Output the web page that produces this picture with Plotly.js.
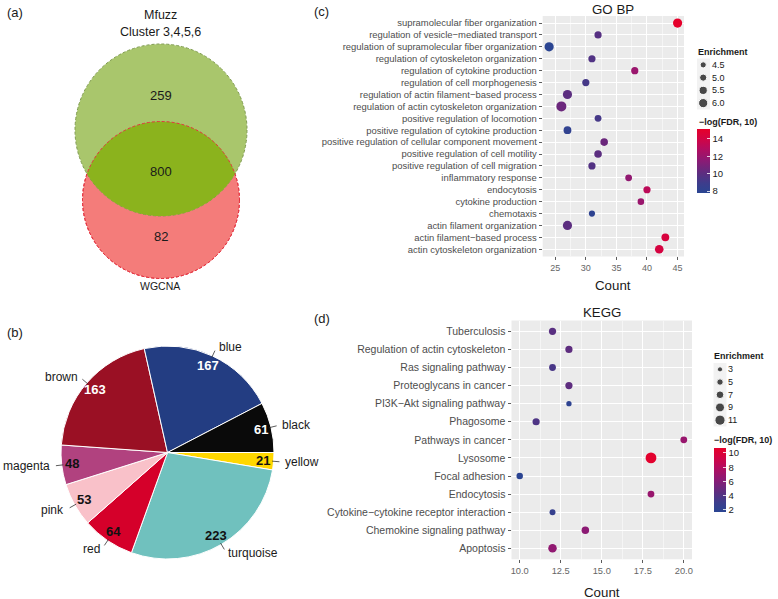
<!DOCTYPE html>
<html><head><meta charset="utf-8">
<script src="https://cdn.plot.ly/plotly-3.0.1.min.js"></script>
<style>html,body{margin:0;padding:0;background:#fff}#chart{width:778px;height:599px}</style>
</head><body><div id="chart"></div>
<script>
// ---------------- DATA ----------------
// (a) Venn
const vennNameA = ['Mfuzz', 'Cluster 3,4,5,6'];
const vennNameB = 'WGCNA';
const vennOnlyA = 259;
const vennBoth = 800;
const vennOnlyB = 82;

// (b) WGCNA modules
const moduleNames = ['yellow', 'turquoise', 'red', 'pink', 'magenta', 'brown', 'blue', 'black'];
const moduleSizes = [21, 223, 64, 53, 48, 163, 167, 61];

// (c) GO BP
const goTerms = [
  'supramolecular fiber organization',
  'regulation of vesicle\u2212mediated transport',
  'regulation of supramolecular fiber organization',
  'regulation of cytoskeleton organization',
  'regulation of cytokine production',
  'regulation of cell morphogenesis',
  'regulation of actin filament\u2212based process',
  'regulation of actin cytoskeleton organization',
  'positive regulation of locomotion',
  'positive regulation of cytokine production',
  'positive regulation of cellular component movement',
  'positive regulation of cell motility',
  'positive regulation of cell migration',
  'inflammatory response',
  'endocytosis',
  'cytokine production',
  'chemotaxis',
  'actin filament organization',
  'actin filament\u2212based process',
  'actin cytoskeleton organization'
];
const goCount = [45, 32, 24, 31, 38, 30, 27, 26, 32, 27, 33, 32, 31, 37, 40, 39, 31, 27, 43, 42];
const goEnrich = [6.0, 5.0, 6.0, 5.0, 5.0, 5.0, 6.0, 6.4, 4.8, 5.3, 5.2, 5.2, 5.0, 4.8, 5.0, 4.7, 4.5, 6.0, 5.3, 5.7];
const goLogFDR = [15.1, 9.8, 7.8, 9.6, 12.0, 9.2, 10.0, 10.5, 9.2, 8.2, 10.5, 10.0, 9.7, 11.7, 13.2, 12.0, 8.0, 10.0, 14.3, 14.2];
const goEnrichBreaks = [4.5, 5.0, 5.5, 6.0];
const goFdrTicks = [8, 10, 12, 14];
const goXTicks = [25, 30, 35, 40, 45];

// (d) KEGG
const keggTerms = [
  'Tuberculosis',
  'Regulation of actin cytoskeleton',
  'Ras signaling pathway',
  'Proteoglycans in cancer',
  'PI3K\u2212Akt signaling pathway',
  'Phagosome',
  'Pathways in cancer',
  'Lysosome',
  'Focal adhesion',
  'Endocytosis',
  'Cytokine\u2212cytokine receptor interaction',
  'Chemokine signaling pathway',
  'Apoptosis'
];
const keggCount = [12, 13, 12, 13, 13, 11, 20, 18, 10, 18, 12, 14, 12];
const keggEnrich = [6.2, 6.2, 5.6, 6.2, 3.2, 6.2, 5.6, 12, 5.0, 5.6, 4.2, 6.7, 8.3];
const keggLogFDR = [4.3, 4.5, 3.6, 4.5, 2.0, 3.8, 6.8, 10.5, 1.8, 6.8, 2.5, 6.3, 6.5];
const keggEnrichBreaks = [3, 5, 7, 9, 11];
const keggFdrTicks = [2, 4, 6, 8, 10];
const keggXTicks = [10, 12.5, 15, 17.5, 20];

// ---------------- STYLE / LAYOUT ----------------
const W = 778, H = 599;
const X = px => px / W;
const Y = py => 1 - py / H;
const FONT = 'Liberation Sans, Arial, Helvetica, sans-serif';
const TXT = '#1a1a1a';

const moduleColors = {
  yellow: '#FFD700', turquoise: '#70C1BE', red: '#D5002A', pink: '#F9C1C9',
  magenta: '#B1427F', brown: '#9A1024', blue: '#233D82', black: '#0A0A0A'
};
const whiteTextModules = ['blue', 'brown', 'black'];

const cscale = [[0, '#2A4592'], [0.15, '#3D3D8C'], [0.3, '#5B2E80'], [0.5, '#8A1B75'], [0.7, '#B50C5E'], [0.85, '#D20444'], [1, '#E6002A']];
const goSize = e => 6.2 + 2 * (e - 4.5);
const keggSize = e => 5.2 + 0.625 * (e - 3);

// geometry (px)
const GO_L = 542.7, GO_R = 684, GO_T = 15.9, GO_B = 256.4;
const KG_L = 511.5, KG_R = 692, KG_T = 320.5, KG_B = 559.2;
const PIE_CX = 167.5, PIE_CY = 452.5, PIE_R = 106.5;
const VENN_CX = 161, VENN_GY = 130, VENN_RY = 200, VENN_K = 2.643;

const shapes = [];
const annotations = [];
function ann(x, y, text, size, opts) {
  return Object.assign({xref: 'paper', yref: 'paper', x: X(x), y: Y(y), text: text, showarrow: false,
    font: {family: FONT, size: size, color: TXT}, xanchor: 'center', yanchor: 'middle'}, opts || {});
}

// panel letters
annotations.push(ann(5, 12, '(a)', 13, {xanchor: 'left'}));
annotations.push(ann(5, 332, '(b)', 13, {xanchor: 'left'}));
annotations.push(ann(311.5, 11, '(c)', 13, {xanchor: 'left'}));
annotations.push(ann(311.5, 318, '(d)', 13, {xanchor: 'left'}));

// ---------- Venn ----------
const totA = vennOnlyA + vennBoth, totB = vennOnlyB + vennBoth;
const rA = VENN_K * Math.sqrt(totA), rB = VENN_K * Math.sqrt(totB);
function circleShape(cx, cy, r, fill, line, dash) {
  return {type: 'circle', xref: 'paper', yref: 'paper', layer: 'above',
    x0: X(cx - r), x1: X(cx + r), y0: Y(cy + r), y1: Y(cy - r),
    fillcolor: fill, line: {color: line, width: line ? 1 : 0, dash: dash || 'solid'}};
}
shapes.push(circleShape(VENN_CX, VENN_RY, rB, '#F47C7A', '#E53340', '3px,2px'));
shapes.push(circleShape(VENN_CX, VENN_GY, rA, '#A9C66C', '#7E9A4E', '3px,2px'));
(function () {
  const d = VENN_RY - VENN_GY;
  const a = (d * d + rA * rA - rB * rB) / (2 * d);
  const h = Math.sqrt(rA * rA - a * a);
  const pts = [];
  const tR = Math.atan2(a, h), tL = Math.atan2(a, -h);
  for (let i = 0; i <= 80; i++) { const t = tR + (tL - tR) * i / 80; pts.push([VENN_CX + rA * Math.cos(t), VENN_GY + rA * Math.sin(t)]); }
  const pL = Math.atan2(a - d, -h), pR = Math.atan2(a - d, h);
  for (let i = 0; i <= 80; i++) { const t = pL + (pR - pL) * i / 80; pts.push([VENN_CX + rB * Math.cos(t), VENN_RY + rB * Math.sin(t)]); }
  const path = 'M ' + pts.map(p => X(p[0]).toFixed(5) + ',' + Y(p[1]).toFixed(5)).join(' L ') + ' Z';
  shapes.push({type: 'path', xref: 'paper', yref: 'paper', layer: 'above', path: path, fillcolor: '#8BB31D', line: {width: 0}});
})();
shapes.push(circleShape(VENN_CX, VENN_RY, rB, 'rgba(0,0,0,0)', '#E53340', '3px,2px'));
annotations.push(ann(160, 15, vennNameA[0], 12.5));
annotations.push(ann(160, 32, vennNameA[1], 12.5));
annotations.push(ann(160.5, 95, String(vennOnlyA), 13));
annotations.push(ann(160.5, 172, String(vennBoth), 13));
annotations.push(ann(160.5, 237, String(vennOnlyB), 13));
annotations.push(ann(160, 286, vennNameB, 10.5));

// ---------- Pie labels ----------
(function () {
  const total = moduleSizes.reduce((s, v) => s + v, 0);
  let cum = 0;
  moduleSizes.forEach((v, i) => {
    const phi = 2 * Math.PI * (cum + v / 2) / total;
    cum += v;
    const c = Math.cos(phi), s = Math.sin(phi);
    const name = moduleNames[i];
    annotations.push(ann(PIE_CX + 0.9 * PIE_R * c, PIE_CY + 0.9 * PIE_R * s, '<b>' + v + '</b>', 13,
      {font: {family: FONT, size: 13, color: whiteTextModules.includes(name) ? '#ffffff' : '#111111'}}));
    const lx = PIE_CX + 1.09 * PIE_R * c, ly = PIE_CY + 1.09 * PIE_R * s;
    annotations.push(ann(lx, ly, name, 12, {xanchor: c > 0.15 ? 'left' : (c < -0.15 ? 'right' : 'center')}));
    shapes.push({type: 'line', xref: 'paper', yref: 'paper', layer: 'above',
      x0: X(PIE_CX + 0.985 * PIE_R * c), y0: Y(PIE_CY + 0.985 * PIE_R * s),
      x1: X(PIE_CX + 1.055 * PIE_R * c), y1: Y(PIE_CY + 1.055 * PIE_R * s),
      line: {color: '#333', width: 0.8}});
  });
})();

// ---------- GO / KEGG backgrounds ----------
['x', 'x2'].forEach((ax, i) => {
  const yax = i === 0 ? 'y' : 'y2';
  shapes.push({type: 'rect', xref: ax + ' domain', yref: yax + ' domain', x0: 0, x1: 1, y0: 0, y1: 1,
    fillcolor: '#EBEBEB', line: {width: 0}, layer: 'below'});
});
// legend key backgrounds
shapes.push({type: 'rect', xref: 'paper', yref: 'paper', layer: 'below', x0: X(697), x1: X(710), y0: Y(109.5), y1: Y(58.5), fillcolor: '#F2F2F2', line: {width: 0}});
shapes.push({type: 'rect', xref: 'paper', yref: 'paper', layer: 'below', x0: X(713.5), x1: X(726.5), y0: Y(426.5), y1: Y(363), fillcolor: '#F2F2F2', line: {width: 0}});

// titles
annotations.push(ann((GO_L + GO_R) / 2, 9, 'GO BP', 13.3));
annotations.push(ann((GO_L + GO_R) / 2, 285, 'Count', 13.3));
annotations.push(ann((KG_L + KG_R) / 2, 312, 'KEGG', 13.3));
annotations.push(ann((KG_L + KG_R) / 2, 592.5, 'Count', 13.3));
// legend titles
annotations.push(ann(696, 52.5, '<b>Enrichment</b>', 9, {xanchor: 'left'}));
annotations.push(ann(696.5, 122, '<b>\u2212log(FDR, 10)</b>', 9, {xanchor: 'left'}));
annotations.push(ann(711.5, 356, '<b>Enrichment</b>', 9, {xanchor: 'left'}));
annotations.push(ann(712, 439.5, '<b>\u2212log(FDR, 10)</b>', 9, {xanchor: 'left'}));
// size legend labels
goEnrichBreaks.forEach((b, i) => annotations.push({xref: 'x3', yref: 'y3', x: 0.4, y: i, text: b.toFixed(1), showarrow: false,
  xanchor: 'left', yanchor: 'middle', font: {family: FONT, size: 9, color: TXT}}));
keggEnrichBreaks.forEach((b, i) => annotations.push({xref: 'x4', yref: 'y4', x: 0.38, y: i, text: String(b), showarrow: false,
  xanchor: 'left', yanchor: 'middle', font: {family: FONT, size: 9, color: TXT}}));

// ---------------- TRACES ----------------
function cbar(x, yTop, thick, ticks) {
  return {x: X(x), xanchor: 'left', y: Y(yTop), yanchor: 'top', len: 64, lenmode: 'pixels',
    thickness: thick, thicknessmode: 'pixels', xpad: 0, ypad: 0, outlinewidth: 0,
    tickvals: ticks, ticks: 'inside', ticklen: 3, tickcolor: '#ffffff', tickwidth: 0.8,
    tickfont: {family: FONT, size: 9.5, color: TXT}};
}
const traces = [
  {type: 'scatter', mode: 'markers', x: goCount, y: goTerms, xaxis: 'x', yaxis: 'y', hoverinfo: 'skip',
    marker: {size: goEnrich.map(goSize), color: goLogFDR, colorscale: cscale, cmin: 7.77, cmax: 15.15, opacity: 1,
      showscale: true, line: {width: 0}, colorbar: cbar(697, 129, 13, goFdrTicks)}},
  {type: 'scatter', mode: 'markers', x: keggCount, y: keggTerms, xaxis: 'x2', yaxis: 'y2', hoverinfo: 'skip',
    marker: {size: keggEnrich.map(keggSize), color: keggLogFDR, colorscale: cscale, cmin: 1.7, cmax: 10.7, opacity: 1,
      showscale: true, line: {width: 0}, colorbar: cbar(714, 448, 12, keggFdrTicks)}},
  {type: 'scatter', mode: 'markers', x: goEnrichBreaks.map(() => 0.23), y: goEnrichBreaks.map((b, i) => i),
    xaxis: 'x3', yaxis: 'y3', hoverinfo: 'skip', marker: {size: goEnrichBreaks.map(goSize), color: '#000'}},
  {type: 'scatter', mode: 'markers', x: keggEnrichBreaks.map(() => 0.225), y: keggEnrichBreaks.map((b, i) => i),
    xaxis: 'x4', yaxis: 'y4', hoverinfo: 'skip', marker: {size: keggEnrichBreaks.map(keggSize), color: '#000'}},
  {type: 'pie', values: moduleSizes, labels: moduleNames, sort: false, direction: 'clockwise', rotation: 90,
    textinfo: 'none', hoverinfo: 'skip', showlegend: false,
    marker: {colors: moduleNames.map(n => moduleColors[n]), line: {color: '#ffffff', width: 1}},
    domain: {x: [X(PIE_CX - PIE_R), X(PIE_CX + PIE_R)], y: [Y(PIE_CY + PIE_R), Y(PIE_CY - PIE_R)]}}
];

const tickCommon = {ticks: 'outside', ticklen: 3, tickwidth: 0.8, tickcolor: '#333', showline: false, zeroline: false,
  gridcolor: '#ffffff', gridwidth: 1, automargin: false, fixedrange: true};
const hidden = {visible: false, showgrid: false, zeroline: false, fixedrange: true, automargin: false};

const layout = {
  width: W, height: H, margin: {l: 0, r: 0, t: 0, b: 0}, paper_bgcolor: '#ffffff', plot_bgcolor: 'rgba(0,0,0,0)',
  showlegend: false, font: {family: FONT, color: TXT},
  xaxis: Object.assign({}, tickCommon, {domain: [X(GO_L), X(GO_R)], anchor: 'y', range: [22.95, 46.05],
    tickvals: goXTicks, tickfont: {family: FONT, size: 9, color: '#666'},
    minor: {dtick: 2.5, tick0: 0, showgrid: true, gridcolor: '#ffffff', gridwidth: 0.5, ticks: ''}}),
  yaxis: Object.assign({}, tickCommon, {domain: [Y(GO_B), Y(GO_T)], anchor: 'x', type: 'category',
    categoryorder: 'array', categoryarray: goTerms, range: [goTerms.length - 0.4, -0.6],
    tickfont: {family: FONT, size: 9.45, color: '#4D4D4D'}}),
  xaxis2: Object.assign({}, tickCommon, {domain: [X(KG_L), X(KG_R)], anchor: 'y2', range: [9.5, 20.5],
    tickvals: keggXTicks, tickformat: '.1f', tickfont: {family: FONT, size: 9.3, color: '#666'},
    minor: {dtick: 1.25, tick0: 0, showgrid: true, gridcolor: '#ffffff', gridwidth: 0.5, ticks: ''}}),
  yaxis2: Object.assign({}, tickCommon, {domain: [Y(KG_B), Y(KG_T)], anchor: 'x2', type: 'category',
    categoryorder: 'array', categoryarray: keggTerms, range: [keggTerms.length - 0.4, -0.6],
    tickfont: {family: FONT, size: 10.5, color: '#4D4D4D'}}),
  xaxis3: Object.assign({}, hidden, {domain: [X(694), X(734)], anchor: 'y3', range: [0, 1]}),
  yaxis3: Object.assign({}, hidden, {domain: [Y(109.5), Y(58.5)], anchor: 'x3', range: [goEnrichBreaks.length - 0.5, -0.5]}),
  xaxis4: Object.assign({}, hidden, {domain: [X(711), X(751)], anchor: 'y4', range: [0, 1]}),
  yaxis4: Object.assign({}, hidden, {domain: [Y(426.5), Y(363)], anchor: 'x4', range: [keggEnrichBreaks.length - 0.5, -0.5]}),
  shapes: shapes,
  annotations: annotations
};

Plotly.newPlot('chart', traces, layout, {staticPlot: true, displayModeBar: false});
</script>
</body></html>
